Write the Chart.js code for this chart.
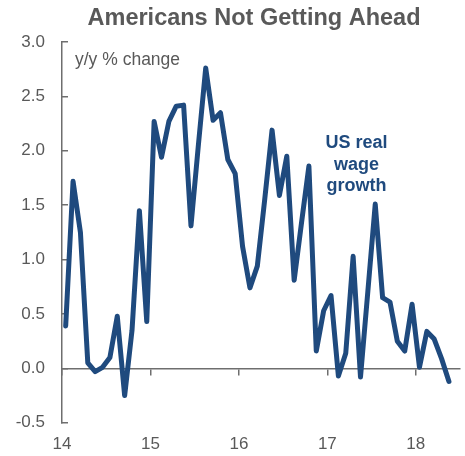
<!DOCTYPE html>
<html>
<head>
<meta charset="utf-8">
<script src="https://cdn.jsdelivr.net/npm/chart.js@4.4.1/dist/chart.umd.min.js"></script>
<style>
  html, body { margin: 0; padding: 0; background: #fff; }
  #wrap { width: 465px; height: 456px; }
</style>
</head>
<body>
<div id="wrap"><canvas id="chart"></canvas></div>
<script>
const chartTitle = 'Americans Not Getting Ahead';
const unitLabel = 'y/y % change';
const seriesLabel = ['US real', 'wage', 'growth'];
const yearTicks = [14, 15, 16, 17, 18];
const yTicks = [-0.5, 0, 0.5, 1, 1.5, 2, 2.5, 3];
const startYear = 14;
// monthly, Jan 2014 .. May 2018
const realWageGrowth = [
  0.39, 1.72, 1.25, 0.05, -0.03, 0.01, 0.10, 0.48, -0.25, 0.35, 1.45, 0.43,
  2.27, 1.94, 2.27, 2.41, 2.42, 1.31, 2.05, 2.76, 2.28, 2.35, 1.92, 1.79,
  1.12, 0.74, 0.94, 1.55, 2.19, 1.59, 1.95, 0.81, 1.34, 1.86, 0.16, 0.53,
  0.67, -0.07, 0.14, 1.03, -0.08, 0.71, 1.51, 0.65, 0.61, 0.25, 0.16, 0.59,
  0.01, 0.34, 0.27, 0.09, -0.12
];

const LINE = '#1F4A7E';
const GREY = '#595959';
const AXIS = '#6e6e6e';
const FONT = "'Liberation Sans', Arial, sans-serif";

const points = realWageGrowth.map((v, i) => ({ x: startYear + (i + 0.5) / 12, y: v }));

const setYearTicks = s => { s.ticks = yearTicks.map(v => ({ value: v })); };

const textPlugin = {
  id: 'texts',
  afterDraw(chart) {
    const { ctx, chartArea, scales } = chart;
    ctx.save();
    ctx.fillStyle = GREY;
    ctx.font = 'bold 23.5px ' + FONT;
    ctx.textAlign = 'center';
    ctx.textBaseline = 'middle';
    ctx.fillText(chartTitle, 254, 19);

    ctx.font = '17.5px ' + FONT;
    ctx.textAlign = 'left';
    ctx.fillText(unitLabel, chartArea.left + 13, chartArea.top + 18);

    ctx.fillStyle = LINE;
    ctx.font = 'bold 18px ' + FONT;
    ctx.textAlign = 'center';
    const lx = scales.x.getPixelForValue(17.33);
    const ly = scales.y.getPixelForValue(2.07);
    seriesLabel.forEach((t, i) => ctx.fillText(t, lx, ly + i * 21.5));
    ctx.restore();
  }
};

new Chart(document.getElementById('chart'), {
  type: 'line',
  data: {
    datasets: [{
      data: points,
      borderColor: LINE,
      borderWidth: 5,
      pointRadius: 0,
      tension: 0,
      borderJoinStyle: 'round',
      borderCapStyle: 'round'
    }]
  },
  options: {
    responsive: true,
    maintainAspectRatio: false,
    animation: false,
    layout: { padding: { left: 0, right: 5, top: 42, bottom: 0 } },
    plugins: {
      legend: { display: false },
      tooltip: { enabled: false },
      title: { display: false }
    },
    scales: {
      x: {
        type: 'linear',
        position: 'bottom',
        min: 14,
        max: 18.5,
        afterBuildTicks: setYearTicks,
        afterFit: s => { s.height = 33; },
        grid: { display: false, drawTicks: false },
        border: { display: false },
        ticks: { color: GREY, font: { family: FONT, size: 17 }, padding: 11, callback: v => v }
      },
      x0: {
        type: 'linear',
        position: { y: 0 },
        min: 14,
        max: 18.5,
        afterBuildTicks: setYearTicks,
        grid: { drawOnChartArea: false, tickLength: 6, color: AXIS, lineWidth: 1.5 },
        border: { color: AXIS, width: 1.5 },
        ticks: { display: false }
      },
      y: {
        type: 'linear',
        min: -0.5,
        max: 3,
        afterBuildTicks: s => { s.ticks = yTicks.map(v => ({ value: v })); },
        afterFit: s => { s.width = 62; },
        grid: { drawOnChartArea: false, tickLength: -6, color: AXIS, lineWidth: 1.5 },
        border: { color: AXIS, width: 1.5 },
        ticks: { color: GREY, font: { family: FONT, size: 17 }, padding: 23, callback: v => v.toFixed(1) }
      }
    }
  },
  plugins: [textPlugin]
});
</script>
</body>
</html>
